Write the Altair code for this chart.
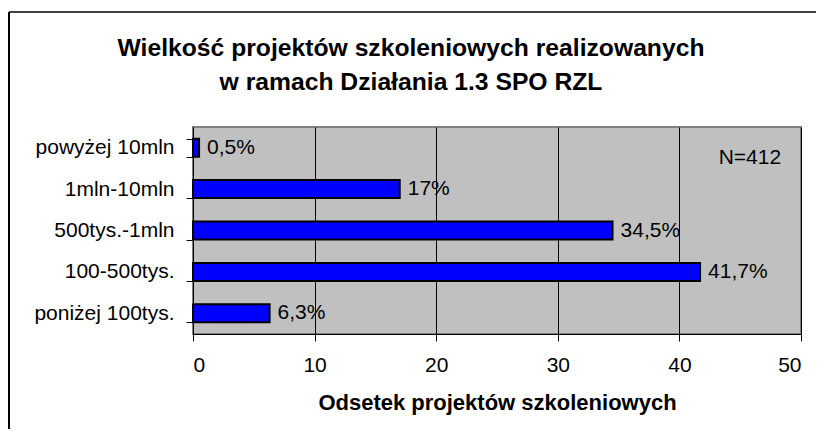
import altair as alt
import pandas as pd

categories = ["powyżej 10mln", "1mln-10mln", "500tys.-1mln", "100-500tys.", "poniżej 100tys."]
values = [0.5, 17, 34.5, 41.7, 6.3]
value_labels = ["0,5%", "17%", "34,5%", "41,7%", "6,3%"]
x_ticks = [0, 10, 20, 30, 40, 50]
note_text = ["N=412"]
note_x = [45.8]
note_cat = ["powyżej 10mln"]

title_lines = ["Wielkość projektów szkoleniowych realizowanych", "w ramach Działania 1.3 SPO RZL"]
x_title = "Odsetek projektów szkoleniowych"

FONT = "Liberation Sans"

df = pd.DataFrame({"cat": categories, "val": values, "lab": value_labels})
note_df = pd.DataFrame({"cat": note_cat, "val": note_x, "lab": note_text})

x_enc = alt.X(
    "val:Q",
    scale=alt.Scale(domain=[0, 50], nice=False),
    axis=alt.Axis(
        values=x_ticks, title=x_title, grid=True, gridColor="black", gridWidth=1,
        domainColor="black", tickColor="black", tickSize=7, labelPadding=13,
        labelFontSize=21, labelFont=FONT, labelColor="black",
        titleFontSize=22, titleFont=FONT, titleFontWeight="bold", titleColor="black",
        titlePadding=17,
    ),
)
y_enc = alt.Y(
    "cat:N",
    sort=categories,
    scale=alt.Scale(paddingInner=0.56, paddingOuter=0.28),
    axis=alt.Axis(
        title=None, domainColor="black", tickColor="black", tickSize=7,
        tickBand="extent", labelPadding=12, labelFontSize=21, labelFont=FONT,
        labelColor="black", grid=False,
    ),
)

bars = alt.Chart(df).mark_bar(color="#0000FF", stroke="black", strokeWidth=2, size=18).encode(
    x=x_enc, y=y_enc
)

labels = alt.Chart(df).mark_text(
    align="left", baseline="middle", dx=8, fontSize=21, font=FONT, color="black"
).encode(x="val:Q", y=alt.Y("cat:N", sort=categories), text="lab:N")

note = alt.Chart(note_df).mark_text(
    align="center", baseline="middle", dy=10, fontSize=21, font=FONT, color="black"
).encode(x="val:Q", y=alt.Y("cat:N", sort=categories), text="lab:N")

border_top = alt.Chart(df).mark_rule(color="#404040", strokeWidth=2).encode(
    x=alt.value(-184), x2=alt.value(640), y=alt.value(-115)
)
border_left = alt.Chart(df).mark_rule(color="black", strokeWidth=2).encode(
    x=alt.value(-184), y=alt.value(-115), y2=alt.value(320)
)

chart = alt.layer(bars, labels, note, border_top, border_left).properties(
    width=608,
    height=207,
    autosize=alt.AutoSizeParams(type="none"),
    padding={"left": 185, "top": 119, "right": 15, "bottom": 95},
    background="white",
    title=alt.TitleParams(
        text=title_lines, fontSize=24.7, font=FONT, fontWeight="bold", color="black",
        anchor="middle", dx=-86, offset=-84, lineHeight=34,
    ),
).configure_view(fill="#C0C0C0", stroke="#808080", strokeWidth=2)

chart.save("out.html", embed_options={"renderer": "svg", "actions": False})
